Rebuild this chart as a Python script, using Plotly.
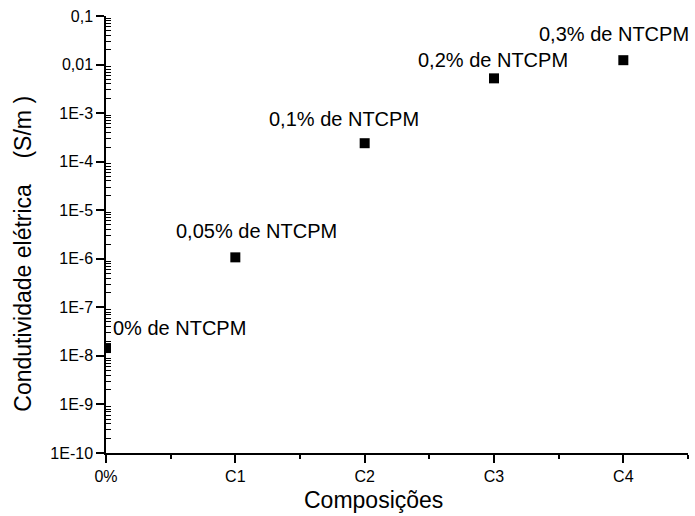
import math
import plotly.graph_objects as go

categories = ["0%", "C1", "C2", "C3", "C4"]
x_pos = [0, 1, 2, 3, 4]
conductivity = [1.45e-8, 1.07e-6, 2.4e-4, 5.2e-3, 1.23e-2]
point_labels = ["0% de NTCPM", "0,05% de NTCPM", "0,1% de NTCPM", "0,2% de NTCPM", "0,3% de NTCPM"]
y_tickvals = [1e-10, 1e-9, 1e-8, 1e-7, 1e-6, 1e-5, 1e-4, 1e-3, 1e-2, 1e-1]
y_ticktext = ["1E-10", "1E-9", "1E-8", "1E-7", "1E-6", "1E-5", "1E-4", "1E-3", "0,01", "0,1"]
label_xshift = [5, 21, -21, -1, -9]
label_yshift = [20, 26, 24, 18, 26]
label_anchor = ["left", "center", "center", "center", "center"]

minor_log = [e + math.log10(m) for e in range(-10, -1) for m in range(2, 10)]

FONT = "Arial, Liberation Sans, sans-serif"

fig = go.Figure()
fig.add_trace(go.Scatter(
    x=x_pos, y=conductivity, mode="markers",
    marker=dict(symbol="square", size=10, color="black", line=dict(width=0)),
    showlegend=False,
))
fig.add_trace(go.Scatter(
    x=x_pos, y=[math.log10(v) for v in conductivity], mode="markers", yaxis="y2",
    marker=dict(opacity=0), showlegend=False, hoverinfo="skip",
))

for xi, yi, t, dx, dy, a in zip(x_pos, conductivity, point_labels, label_xshift, label_yshift, label_anchor):
    fig.add_annotation(
        x=xi, y=math.log10(yi), text=t, showarrow=False,
        xanchor=a, yanchor="middle", xshift=dx, yshift=dy,
        font=dict(family=FONT, size=20, color="black"),
    )

fig.add_annotation(
    xref="paper", yref="paper", x=0.46, y=-0.1075, text="Composições",
    showarrow=False, xanchor="center", yanchor="middle",
    font=dict(family=FONT, size=23, color="black"),
)
fig.add_annotation(
    xref="paper", yref="paper", x=-0.1417, y=0.455,
    text="Condutividade elétrica    (S/m )", textangle=-90,
    showarrow=False, xanchor="center", yanchor="middle",
    font=dict(family=FONT, size=23, color="black"),
)

fig.update_layout(
    width=695, height=516,
    margin=dict(l=106, r=7, t=16, b=63),
    plot_bgcolor="white", paper_bgcolor="white",
    font=dict(family=FONT, color="black"),
    xaxis=dict(
        range=[0, 4.5], tickvals=x_pos, ticktext=categories,
        showline=True, linecolor="black", linewidth=1.5,
        ticks="outside", ticklen=8, tickwidth=1.5, tickcolor="black",
        minor=dict(tickvals=[0.5, 1.5, 2.5, 3.5, 4.5], ticks="outside", ticklen=4, tickwidth=1.5, tickcolor="black"),
        showgrid=False, zeroline=False,
        tickfont=dict(size=16),
    ),
    yaxis=dict(
        type="log", range=[-10, -1], tickvals=y_tickvals, ticktext=y_ticktext,
        showline=True, linecolor="black", linewidth=1.5,
        ticks="outside", ticklen=8, tickwidth=1.5, tickcolor="black",
        showgrid=False, zeroline=False,
        tickfont=dict(size=16),
    ),
    yaxis2=dict(
        overlaying="y", anchor="x", side="left", type="linear", range=[-10, -1],
        tickmode="array", tickvals=minor_log, ticks="inside", ticklen=5,
        tickwidth=1.2, tickcolor="black",
        showticklabels=False, showgrid=False, showline=False, zeroline=False,
    ),
)

fig.write_html("out.html")
